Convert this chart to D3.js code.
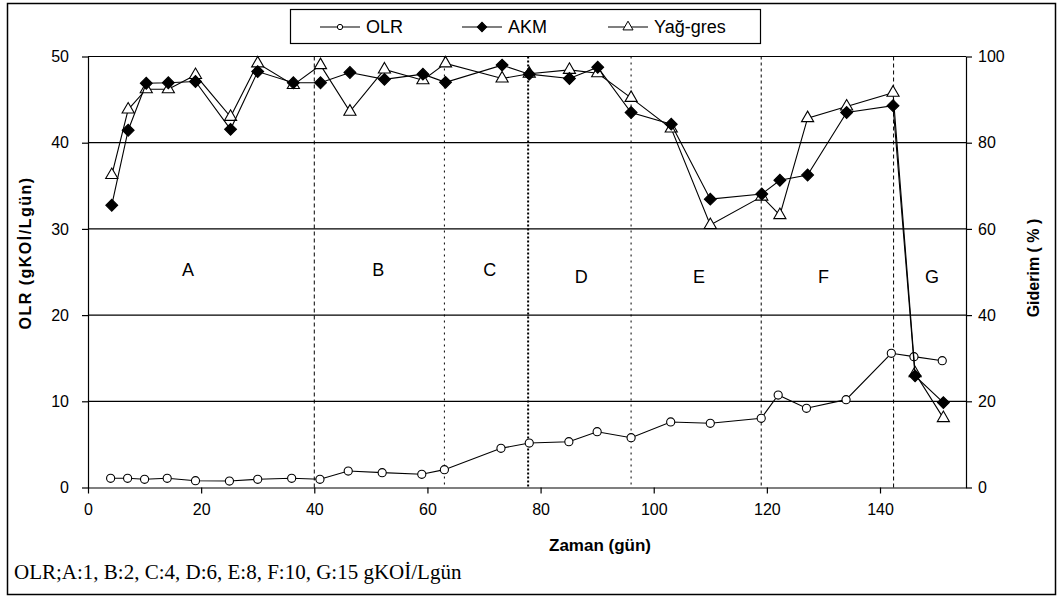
<!doctype html>
<html>
<head>
<meta charset="utf-8">
<script src="https://d3js.org/d3.v7.min.js"></script>
<style>
  body { margin: 0; background: #fff; }
  text { font-family: "Liberation Sans", Arial, sans-serif; fill: #000; }
  .tick text { font-family: "Liberation Sans Narrow", "Arial Narrow", "Liberation Sans", sans-serif; font-size: 16px; }
</style>
</head>
<body>
<svg id="chart" width="1059" height="597"></svg>
<script>
// ---- data ----
var olrDays = [4, 7, 10, 14, 19, 25, 30, 36, 41, 46, 52, 59, 63, 73, 78, 85, 90, 96, 103, 110, 119, 122, 127, 134, 142, 146, 151];
var olrValues = [1.07, 1.07, 0.95, 1.07, 0.79, 0.75, 0.95, 1.07, 0.95, 1.91, 1.72, 1.53, 2.07, 4.55, 5.16, 5.31, 6.47, 5.78, 7.6, 7.45, 8.03, 10.73, 9.19, 10.19, 15.57, 15.18, 14.71];

var remDays = [4.2, 7.1, 10.3, 14.2, 19, 25.2, 30, 36.3, 41.1, 46.3, 52.4, 59.2, 63.2, 73.2, 78, 85.1, 90.1, 96, 103.1, 110, 119.1, 122.3, 127.2, 134.1, 142.3, 146.2, 151.2];
var akmValues = [65.5, 82.9, 93.8, 93.9, 94.2, 83.1, 96.5, 93.9, 93.9, 96.3, 94.7, 95.9, 94.0, 98.0, 95.9, 94.9, 97.5, 87.0, 84.3, 66.9, 68.1, 71.3, 72.5, 87.0, 88.6, 25.9, 19.7];
var yagValues = [72.5, 87.7, 92.4, 92.4, 95.7, 86.0, 98.4, 93.4, 98.0, 87.2, 97.0, 94.5, 98.4, 94.9, 96.0, 96.9, 96.1, 90.4, 83.3, 60.9, 67.5, 63.2, 85.7, 88.4, 91.6, 26.5, 16.1];

var phaseBounds = [40, 63, 77.8, 96, 119, 142.4];
var phaseNames = ["A", "B", "C", "D", "E", "F", "G"];
var phaseCenters = [17.7, 51.3, 71, 87.2, 108, 130, 149.2];

var leftTicks = [0, 10, 20, 30, 40, 50];
var rightTicks = [0, 20, 40, 60, 80, 100];
var xTicks = [0, 20, 40, 60, 80, 100, 120, 140];

var seriesNames = ["OLR", "AKM", "Yağ-gres"];
var footnote = "OLR;A:1, B:2, C:4, D:6, E:8, F:10, G:15 gKOİ/Lgün";

// ---- setup ----
var svg = d3.select("#chart");
var plot = { left: 88, right: 966, top: 56.5, bottom: 487.5 };

var x = d3.scaleLinear().domain([0, 155.2]).range([plot.left, plot.right]);
var yL = d3.scaleLinear().domain([0, 50]).range([plot.bottom, plot.top]);
var yR = d3.scaleLinear().domain([0, 100]).range([plot.bottom, plot.top]);

// outer frame
svg.append("rect")
  .attr("x", 7.5).attr("y", 3.5)
  .attr("width", 1048).attr("height", 591)
  .attr("fill", "none").attr("stroke", "#000").attr("stroke-width", 1.5);

// horizontal grid
svg.append("g").selectAll("line")
  .data(leftTicks.slice(1))
  .enter().append("line")
  .attr("x1", plot.left).attr("x2", plot.right)
  .attr("y1", d => yL(d)).attr("y2", d => yL(d))
  .attr("stroke", "#000").attr("stroke-width", 1.2);

// phase boundaries
var dashes = ["4,3", "2,4", "2,2", "2,4", "3,3", "4,3"];
var widths = [1, 1, 2, 1, 1, 1];
svg.append("g").selectAll("line")
  .data(phaseBounds)
  .enter().append("line")
  .attr("x1", d => x(d)).attr("x2", d => x(d))
  .attr("y1", plot.top).attr("y2", plot.bottom)
  .attr("stroke", "#000")
  .attr("stroke-width", (d, i) => widths[i])
  .attr("stroke-dasharray", (d, i) => dashes[i]);

// phase letters
svg.append("g").selectAll("text")
  .data(phaseNames)
  .enter().append("text")
  .attr("x", (d, i) => x(phaseCenters[i]))
  .attr("y", (d, i) => i < 3 ? 276 : 283)
  .attr("text-anchor", "middle")
  .style("font-size", "18px")
  .text(d => d);

// axes
var xAxis = svg.append("g")
  .attr("transform", "translate(0," + plot.bottom + ")")
  .call(d3.axisBottom(x).tickValues(xTicks).tickSize(6).tickPadding(10).tickSizeOuter(0));
var lAxis = svg.append("g")
  .attr("transform", "translate(" + plot.left + ",0)")
  .call(d3.axisLeft(yL).tickValues(leftTicks).tickSize(6).tickPadding(13).tickSizeOuter(0));
var rAxis = svg.append("g")
  .attr("transform", "translate(" + plot.right + ",0)")
  .call(d3.axisRight(yR).tickValues(rightTicks).tickSize(6).tickPadding(6).tickSizeOuter(0));
[xAxis, lAxis, rAxis].forEach(function(g) {
  g.selectAll("path, line").attr("stroke", "#000").attr("stroke-width", 1.2);
  g.selectAll("text").attr("fill", "#000");
});

// axis titles
svg.append("text")
  .attr("transform", "translate(31,253) rotate(-90)")
  .attr("text-anchor", "middle")
  .style("font-size", "16px").style("font-weight", "bold").style("letter-spacing", "1.5px")
  .text("OLR (gKOİ/Lgün)");
svg.append("text")
  .attr("transform", "translate(1039,268) rotate(-90)")
  .attr("text-anchor", "middle")
  .style("font-size", "16px").style("font-weight", "bold")
  .text("Giderim ( % )");
svg.append("text")
  .attr("x", 600).attr("y", 551)
  .attr("text-anchor", "middle")
  .style("font-size", "17px").style("font-weight", "bold")
  .text("Zaman (gün)");
svg.append("text")
  .attr("x", 14).attr("y", 579)
  .style("font-family", "'Liberation Serif', 'Times New Roman', serif")
  .style("font-size", "21px")
  .text(footnote);

// series
var olr = olrDays.map((d, i) => [d, olrValues[i]]);
var akm = remDays.map((d, i) => [d, akmValues[i]]);
var yag = remDays.map((d, i) => [d, yagValues[i]]);

var lineL = d3.line().x(d => x(d[0])).y(d => yL(d[1]));
var lineR = d3.line().x(d => x(d[0])).y(d => yR(d[1]));

var circle = d3.symbol().type(d3.symbolCircle).size(52);
var diamond = d3.symbol().type(d3.symbolSquare).size(70);
var triangle = d3.symbol().type(d3.symbolTriangle).size(64);

function drawSeries(data, line, yScale, sym, fill, rot) {
  var g = svg.append("g");
  g.append("path").datum(data)
    .attr("d", line).attr("fill", "none").attr("stroke", "#000").attr("stroke-width", 1.1);
  g.selectAll("path.m").data(data).enter().append("path")
    .attr("class", "m")
    .attr("d", sym)
    .attr("transform", d => "translate(" + x(d[0]) + "," + yScale(d[1]) + ") rotate(" + rot + ")")
    .attr("fill", fill).attr("stroke", "#000").attr("stroke-width", 1.1);
}
drawSeries(olr, lineL, yL, circle, "#fff", 0);
drawSeries(yag, lineR, yR, triangle, "#fff", 0);
drawSeries(akm, lineR, yR, diamond, "#000", 45);

// legend
var lg = svg.append("g");
lg.append("rect")
  .attr("x", 290.5).attr("y", 9.5).attr("width", 470).attr("height", 34)
  .attr("fill", "#fff").attr("stroke", "#000").attr("stroke-width", 1.2);
var legX = [320, 462, 608];
var legSyms = [d3.symbol().type(d3.symbolCircle).size(22), d3.symbol().type(d3.symbolSquare).size(44), d3.symbol().type(d3.symbolTriangle).size(44)];
var legFill = ["#fff", "#000", "#fff"];
var legRot = [0, 45, 0];
seriesNames.forEach(function(name, i) {
  var lx = legX[i];
  lg.append("line").attr("x1", lx).attr("x2", lx + 40).attr("y1", 27).attr("y2", 27)
    .attr("stroke", "#000").attr("stroke-width", 1.1);
  lg.append("path").attr("d", legSyms[i])
    .attr("transform", "translate(" + (lx + 20) + ",27) rotate(" + legRot[i] + ")")
    .attr("fill", legFill[i]).attr("stroke", "#000");
  lg.append("text").attr("x", lx + 46).attr("y", 33)
    .style("font-size", "18px").text(name);
});
</script>
</body>
</html>
